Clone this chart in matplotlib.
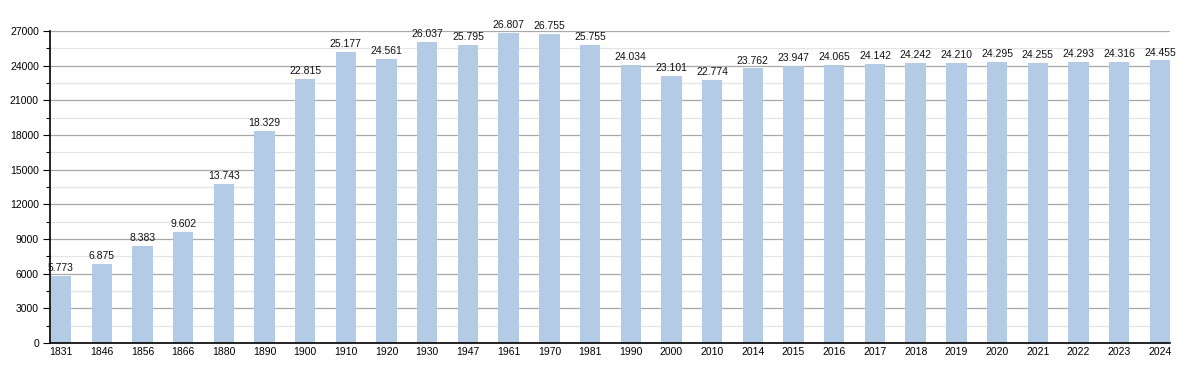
import matplotlib
matplotlib.use('agg')
from matplotlib import pyplot as plt
from matplotlib.ticker import MultipleLocator

years = ['1831', '1846', '1856', '1866', '1880', '1890', '1900', '1910', '1920', '1930',
         '1947', '1961', '1970', '1981', '1990', '2000', '2010', '2014', '2015', '2016',
         '2017', '2018', '2019', '2020', '2021', '2022', '2023', '2024']
population = [5773, 6875, 8383, 9602, 13743, 18329, 22815, 25177, 24561, 26037,
              25795, 26807, 26755, 25755, 24034, 23101, 22774, 23762, 23947, 24065,
              24142, 24242, 24210, 24295, 24255, 24293, 24316, 24455]

plt.rcParams['font.family'] = ['Liberation Sans', 'DejaVu Sans']

fig = plt.figure(figsize=(12, 3.73), dpi=100)
ax = fig.add_axes([50 / 1200, 30 / 373, 1120 / 1200, 312 / 373])

x = range(len(years))
ax.bar(x, population, width=0.5, color='#b3cbe4', zorder=2)
for i, v in zip(x, population):
    ax.text(i, v + 250, f'{v:,}'.replace(',', '.'), ha='center', va='bottom', fontsize=7.5, color='#111111', zorder=3)

ax.set_xlim(-0.27, 27.25)
ax.set_ylim(0, 27000)
ax.yaxis.set_major_locator(MultipleLocator(3000))
ax.yaxis.set_minor_locator(MultipleLocator(1500))
ax.grid(axis='y', which='major', color='#a8a8a8', linewidth=0.9, zorder=0)
ax.grid(axis='y', which='minor', color='#e4e4e4', linewidth=0.9, zorder=0)
ax.set_xticks(list(x))
ax.set_xticklabels(years)
ax.tick_params(axis='x', length=0, labelsize=7.5, pad=3)
ax.tick_params(axis='y', which='major', length=5, width=0.8, labelsize=7.5, pad=3)
ax.tick_params(axis='y', which='minor', length=3, width=0.8)
for side in ('top', 'right'):
    ax.spines[side].set_visible(False)
ax.spines['left'].set_linewidth(1.2)
ax.spines['bottom'].set_linewidth(1.2)

fig.savefig('out.png', dpi=100)
